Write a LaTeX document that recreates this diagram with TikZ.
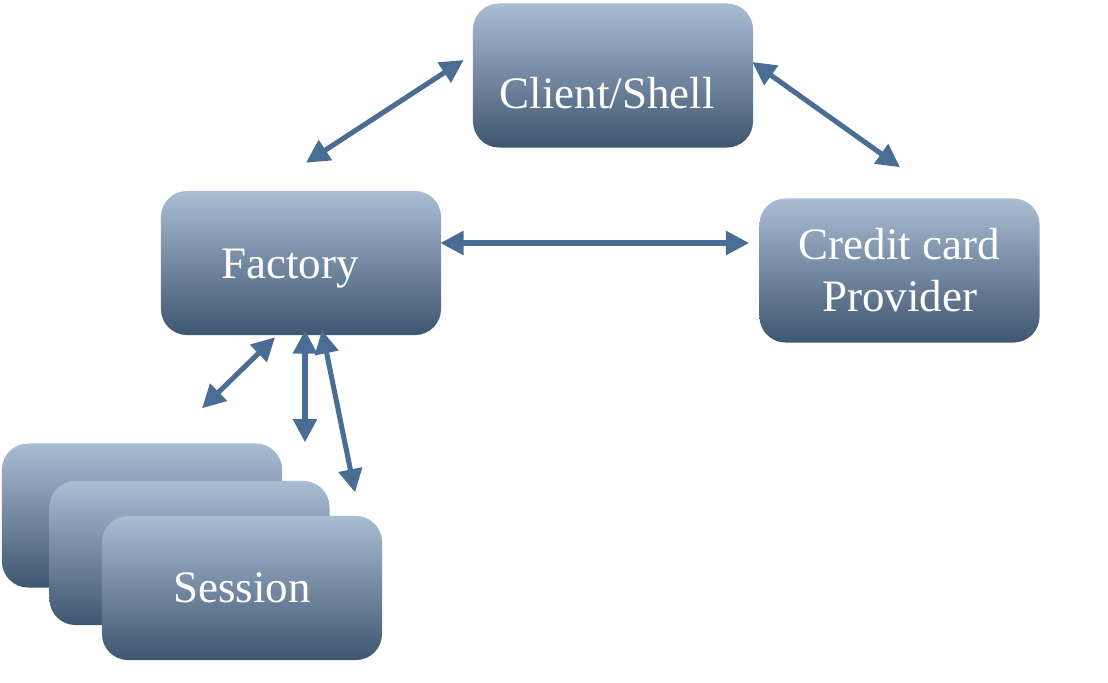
\documentclass[tikz,border=0pt]{standalone}
\usepackage{fontspec}
\setmainfont{Liberation Serif}
\usetikzlibrary{arrows.meta}
\definecolor{boxtop}{RGB}{169,189,211}
\definecolor{boxbottom}{RGB}{63,86,112}
\definecolor{arrowblue}{RGB}{74,109,147}
\begin{document}
\begin{tikzpicture}[x=0.025cm, y=-0.025cm,
		box/.style={rectangle, rounded corners=0.65cm, top color=boxtop, bottom color=boxbottom,
			text=white, minimum width=7cm, minimum height=3.6cm, align=center,
			font=\fontsize{32}{37}\selectfont},
		boxtext/.style={text=white, font=\fontsize{32}{37}\selectfont},
		link/.style={{Triangle[length=0.58cm, width=0.58cm]}-{Triangle[length=0.58cm, width=0.58cm]},
			line width=3.6pt, arrowblue}]
		\useasboundingbox (0,0) rectangle (1108,682);
		\node[box, label={[boxtext, xshift=-0.14cm, yshift=-0.44cm]center:Client/Shell}] (client) at (613,75.5) {};
		\node[box, label={[boxtext, xshift=-0.27cm, yshift=-0.15cm]center:Factory}] (factory) at (301,263) {};
		\node[box] (credit) at (899.5,270.5) {Credit card\\Provider};
		% stack of sessions
		\node[box] (session1) at (142,515.5) {};
		\node[box] (session2) at (189.5,553) {};
		\node[box] (session3) at (242,588) {Session};
		
		\draw[link] ([shift={(5,-28)}]factory.north) -- ([shift={(-9,-15.5)}]client.west);
		\draw[link] ([shift={(-1,-13.5)}]client.east) -- ([shift={(0.5,-31)}]credit.north);
		\draw[link] ([shift={(-1,-20)}]factory.east) -- ([shift={(-10,-27.5)}]credit.west);
		
		\draw[link] ([shift={(-26,2)}]factory.south) -- ([shift={(-99,73)}]factory.south);
		\draw[link] ([shift={(4,-5)}]factory.south) -- ([shift={(4,107)}]factory.south);
		\draw[link] ([shift={(21,-5)}]factory.south) -- ([shift={(54,157)}]factory.south);
	\end{tikzpicture}
\end{document}
